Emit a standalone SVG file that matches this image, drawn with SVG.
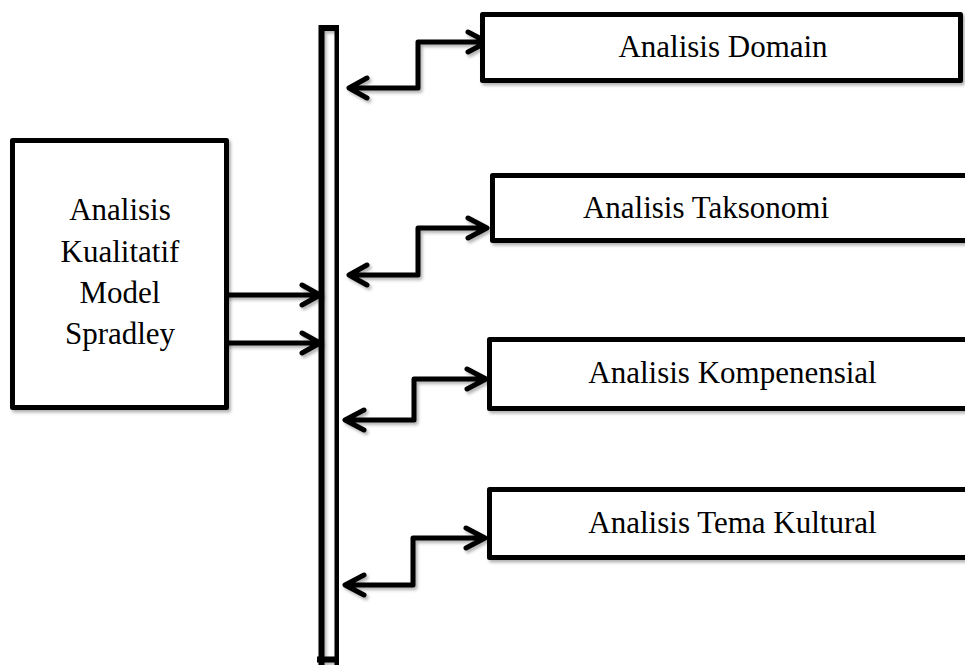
<svg xmlns="http://www.w3.org/2000/svg" width="965" height="665" viewBox="0 0 965 665">
<defs>
<filter id="sh" x="-5%" y="-5%" width="110%" height="120%">
<feDropShadow dx="2" dy="2.5" stdDeviation="1.5" flood-color="#000" flood-opacity="0.3"/>
</filter>
<style>
.box{fill:#fff;stroke:#000;stroke-width:5;stroke-linejoin:round}
.ln{fill:none;stroke:#000;stroke-width:5;stroke-linejoin:round;stroke-linecap:round}
.bar{fill:none;stroke:#000;stroke-width:6}
.t{font-family:"Liberation Serif","Times New Roman",serif;font-size:31px;fill:#000;text-anchor:middle}
</style>
</defs>
<rect width="965" height="665" fill="#fff"/>
<g id="bar" filter="url(#sh)">
<path class="bar" d="M321.5,665 V28 H337.5 V665 M317,659.5 H337"/>
</g>
<g id="connectors" filter="url(#sh)">
<path class="ln" d="M228,295 H319 M302,285 L320,295 L302,305"/>
<path class="ln" d="M228,343 H319 M302,333 L320,343 L302,353"/>
<path class="ln" d="M350,88 H418 V42 H486 M468,32 L487,42 L468,52 M367,78 L349,88 L367,98"/>
<path class="ln" d="M350,275 H418 V228 H486 M468,218 L487,228 L468,238 M367,265 L349,275 L367,285"/>
<path class="ln" d="M346,420 H414 V379 H485 M467,369 L486,379 L467,389 M364,410 L345,420 L364,430"/>
<path class="ln" d="M346,585 H413 V538 H484 M466,528 L485,538 L466,548 M364,575 L345,585 L364,595"/>
</g>
<g id="spradley" filter="url(#sh)">
<rect class="box" x="12.5" y="140.5" width="214" height="267"/>
</g>
<g id="spradley-text">
<text class="t" x="120" y="220">Analisis</text>
<text class="t" x="120" y="261.5">Kualitatif</text>
<text class="t" x="120" y="303">Model</text>
<text class="t" x="120" y="344">Spradley</text>
</g>
<g id="domain">
<rect class="box" x="482.5" y="14.5" width="478" height="66" filter="url(#sh)"/>
<text class="t" x="723" y="57">Analisis Domain</text>
</g>
<g id="taksonomi">
<rect class="box" x="492.5" y="175.5" width="500" height="65" filter="url(#sh)"/>
<text class="t" x="706" y="218">Analisis Taksonomi</text>
</g>
<g id="kompenensial">
<rect class="box" x="489.5" y="339.5" width="500" height="69" filter="url(#sh)"/>
<text class="t" x="732.5" y="383">Analisis Kompenensial</text>
</g>
<g id="tema">
<rect class="box" x="489.5" y="489.5" width="500" height="68" filter="url(#sh)"/>
<text class="t" x="732.5" y="533">Analisis Tema Kultural</text>
</g>
</svg>
